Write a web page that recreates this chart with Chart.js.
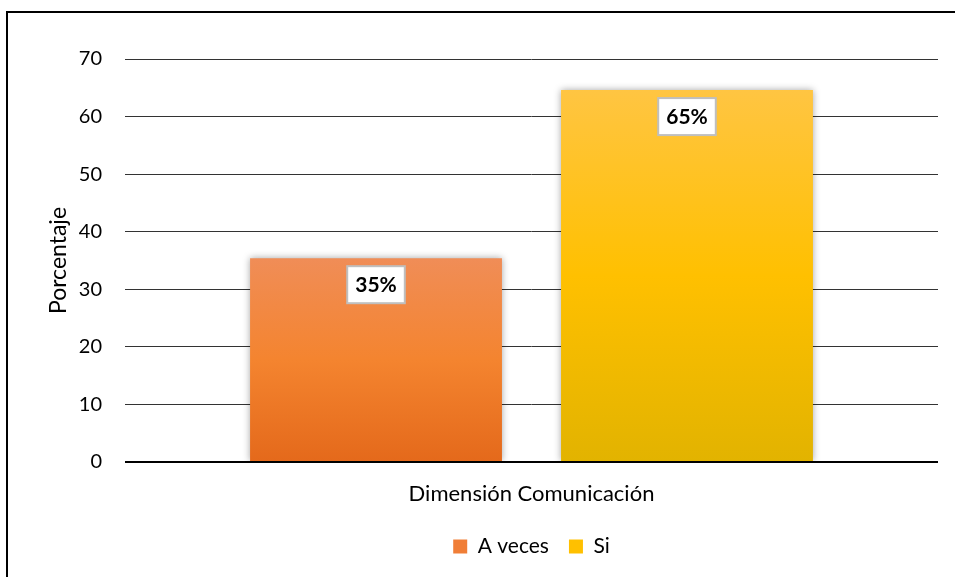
<!DOCTYPE html>
<html>
<head>
<meta charset="utf-8">
<script src="https://cdn.jsdelivr.net/npm/chart.js@4.4.1/dist/chart.umd.min.js"></script>
<style>
  html, body { margin: 0; padding: 0; background: #fff; overflow: hidden; }
  #wrap { position: absolute; left: 0; top: 0; width: 955px; height: 577px; }
  #frame { position: absolute; left: 6px; top: 11px; width: 1200px; height: 900px;
           border-left: 2.5px solid #000; border-top: 2.5px solid #000; pointer-events: none; }
</style>
</head>
<body>
<div id="wrap"><canvas id="barChart" width="955" height="577"></canvas></div>
<div id="frame"></div>
<script>
// data
var categories = ['Dimensión Comunicación'];
var seriesNames = ['A veces', 'Si'];
var aVecesValues = [35.4];
var siValues = [64.6];
var yMax = 70;
var yStep = 10;

var FONT = 'Lato, "Open Sans", sans-serif';

// vertical gradient for each bar, from its top down to zero
function barGradient(top, mid, bottom) {
    return function (ctx) {
        var chart = ctx.chart;
        if (!chart.chartArea || ctx.type !== 'data') return mid;
        var y = chart.scales.y;
        var g = chart.ctx.createLinearGradient(0, y.getPixelForValue(ctx.raw), 0, y.getPixelForValue(0));
        g.addColorStop(0, top);
        g.addColorStop(0.5, mid);
        g.addColorStop(1, bottom);
        return g;
    };
}

var legendColors = ['#F07E37', '#FFC000'];

// soft shadow round the bars
var barShadow = {
    id: 'barShadow',
    beforeDatasetDraw: function (chart) {
        var c = chart.ctx;
        c.save();
        c.shadowColor = 'rgba(0,0,0,0.35)';
        c.shadowBlur = 7;
    },
    afterDatasetDraw: function (chart) {
        chart.ctx.restore();
    }
};

// white boxed percentage labels at the top of the bars
var boxLabels = {
    id: 'boxLabels',
    afterDatasetsDraw: function (chart) {
        var c = chart.ctx;
        chart.data.datasets.forEach(function (ds, i) {
            chart.getDatasetMeta(i).data.forEach(function (bar, j) {
                var txt = Math.round(ds.data[j]) + '%';
                c.save();
                c.font = 'bold 21px ' + FONT;
                var w = c.measureText(txt).width + 16;
                var h = 37;
                var x = bar.x - w / 2;
                var y = bar.y + 8;
                c.fillStyle = '#fff';
                c.fillRect(x, y, w, h);
                c.strokeStyle = '#BFBFBF';
                c.lineWidth = 2;
                c.strokeRect(x, y, w, h);
                c.fillStyle = '#000';
                c.textAlign = 'center';
                c.textBaseline = 'middle';
                c.fillText(txt, bar.x, y + h / 2 + 1);
                c.restore();
            });
        });
    }
};

var ctxB = document.getElementById('barChart').getContext('2d');
var barChart = new Chart(ctxB, {
    type: 'bar',
    data: {
        labels: categories,
        datasets: [{
            label: seriesNames[0],
            data: aVecesValues,
            backgroundColor: barGradient('#F08D57', '#F4842F', '#E4691B')
        }, {
            label: seriesNames[1],
            data: siValues,
            backgroundColor: barGradient('#FFC542', '#FFC000', '#E2B300')
        }]
    },
    options: {
        responsive: false,
        animation: false,
        devicePixelRatio: 1,
        categoryPercentage: 0.765,
        barPercentage: 0.81,
        layout: { padding: { top: 59, right: 17, left: 0, bottom: 10 } },
        plugins: {
            tooltip: { enabled: false },
            legend: {
                position: 'bottom',
                fullSize: false,
                labels: {
                    boxWidth: 14,
                    boxHeight: 14,
                    padding: 20,
                    color: '#000',
                    font: { family: FONT, size: 21 },
                    generateLabels: function (chart) {
                        return chart.data.datasets.map(function (ds, i) {
                            return {
                                text: ds.label,
                                fillStyle: legendColors[i],
                                strokeStyle: legendColors[i],
                                lineWidth: 0,
                                fontColor: '#000',
                                datasetIndex: i
                            };
                        });
                    }
                }
            }
        },
        scales: {
            x: {
                grid: { display: false },
                border: { display: false },
                ticks: { color: '#000', padding: 11, font: { family: FONT, size: 22 } },
                afterFit: function (scale) { scale.height = 54; }
            },
            y: {
                min: 0,
                max: yMax,
                border: { display: false },
                grid: {
                    drawTicks: false,
                    color: function (c) { return c.tick.value === 0 ? '#000' : '#333'; },
                    lineWidth: function (c) { return c.tick.value === 0 ? 2 : 1; }
                },
                ticks: {
                    stepSize: yStep,
                    padding: 23,
                    color: '#000',
                    font: { family: FONT, size: 20 }
                },
                title: {
                    display: true,
                    text: 'Porcentaje',
                    color: '#000',
                    font: { family: FONT, size: 23 },
                    padding: { top: 45, bottom: 0 }
                },
                afterFit: function (scale) { scale.width = 125; }
            }
        }
    },
    plugins: [barShadow, boxLabels]
});
</script>
</body>
</html>
